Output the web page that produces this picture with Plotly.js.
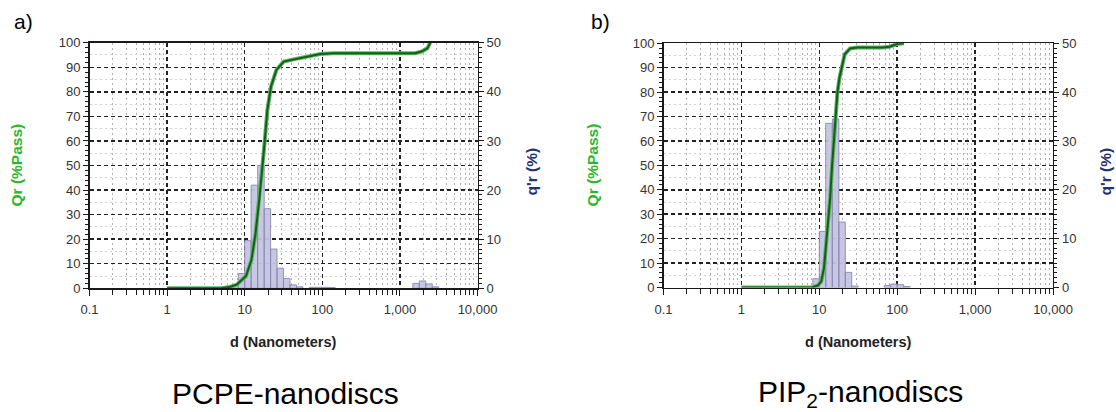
<!DOCTYPE html>
<html><head><meta charset="utf-8">
<script src="https://cdn.plot.ly/plotly-3.0.1.min.js"></script>
<style>html,body{margin:0;padding:0;background:#fff}#chart{width:1116px;height:412px}</style>
</head><body><div id="chart"></div>
<script>
// ---------- data ----------
const panelLabels = ['a)', 'b)'];
const sampleNames = ['PCPE-nanodiscs', 'PIP<sub>2</sub>-nanodiscs'];
const xTitle = 'd (Nanometers)';
const yLeftTitle = 'Qr (%Pass)';
const yRightTitle = "q'r (%)";

// histogram (q'r, %) — bin centre diameters in nm
const pcpeBinD = [7.5, 9.1, 11.0, 13.3, 16.2, 19.6, 23.7, 28.7, 34.8, 42.2, 51.1, 75.0, 90.9, 110, 133, 1615, 1957, 2371, 2873];
const pcpeBinQ = [0.6, 3.0, 9.7, 21.0, 25.0, 16.2, 8.0, 4.1, 2.0, 0.7, 0.3, 0.2, 0.2, 0.2, 0.15, 1.0, 1.5, 0.9, 0.3];
const pipBinD  = [9.1, 11.0, 13.3, 16.2, 19.6, 23.7, 28.7, 75.0, 90.9, 110, 133];
const pipBinQ  = [1.8, 11.5, 33.6, 34.5, 13.4, 3.1, 0.3, 0.4, 0.7, 0.6, 0.2];

// cumulative curve (Qr, % pass)
const pcpeQrD = [1, 5, 6.4, 7.9, 10.4, 12.2, 13.8, 15.4, 17.7, 19.6, 21.8, 25.6, 31.8, 42.4, 69.7, 93.8, 138, 300, 1575, 1930, 2260, 2460];
const pcpeQr  = [0, 0, 0.5, 1.5, 5, 11.5, 22.4, 36, 56.3, 72.6, 82.1, 88.9, 92.3, 93.2, 94.6, 95.4, 95.7, 95.7, 95.7, 96.5, 97.7, 100];
const pipQrD  = [1, 8.0, 9.55, 10.6, 11.5, 12.5, 13.8, 14.6, 15.5, 16.2, 17.1, 18.2, 19.1, 21.2, 24.9, 30.8, 64.6, 80, 98.9, 122];
const pipQr   = [0, 0, 0.8, 2.5, 8, 20, 37, 50, 62, 72, 80, 86, 89.5, 95.5, 97.9, 98.3, 98.3, 98.6, 99.7, 100];

// ---------- styling ----------
const BIN_LOGW = 1 / 12;           // bin width in decades
const FONT = 'Liberation Sans, Arial, sans-serif';
const tickFont = {family: FONT, size: 13, color: '#333'};
const W = 1116, H = 412;
const px = v => v / W, py = v => 1 - v / H;

const panels = [
  {binD: pcpeBinD, binQ: pcpeBinQ, qrD: pcpeQrD, qr: pcpeQr, x0: 89.5, x1: 477.5, y0: 42.7, y1: 288.3,
   xa: 'x', yq: 'y', yQ: 'y2', lblX: 12, qrX: 16, qprX: 531},
  {binD: pipBinD, binQ: pipBinQ, qrD: pipQrD, qr: pipQr, x0: 663.5, x1: 1053, y0: 43.3, y1: 287.5,
   xa: 'x2', yq: 'y3', yQ: 'y4', lblX: 589, qrX: 592, qprX: 1105}
];

function barPolys(d, q) {
  const xs = [], ys = [];
  const f = Math.pow(10, BIN_LOGW / 2);
  d.forEach((c, i) => {
    const lo = c / f, hi = c * f;
    xs.push(lo, lo, hi, hi, lo, null);
    ys.push(0, q[i], q[i], 0, 0, null);
  });
  return {xs, ys};
}

const traces = [];
const layout = {
  width: W, height: H, margin: {l: 0, r: 0, t: 0, b: 0},
  paper_bgcolor: '#fff', plot_bgcolor: '#fff', showlegend: false,
  annotations: [], font: {family: FONT}
};

panels.forEach((p, k) => {
  const b = barPolys(p.binD, p.binQ);
  traces.push({type: 'scatter', mode: 'lines', x: b.xs, y: b.ys, xaxis: p.xa, yaxis: p.yq,
    fill: 'toself', fillcolor: 'rgba(196,195,225,0.95)', line: {color: '#8a89b3', width: 0.9},
    hoverinfo: 'skip'});
  // light halo + dark core of the cumulative curve
  traces.push({type: 'scatter', mode: 'lines', x: p.qrD, y: p.qr, xaxis: p.xa, yaxis: p.yQ,
    line: {color: '#58b85c', width: 4}, hoverinfo: 'skip'});
  traces.push({type: 'scatter', mode: 'lines', x: p.qrD, y: p.qr, xaxis: p.xa, yaxis: p.yQ,
    line: {color: '#1a5a22', width: 2}, hoverinfo: 'skip'});

  const xKey = p.xa === 'x' ? 'xaxis' : 'xaxis2';
  const yqKey = p.yq === 'y' ? 'yaxis' : 'yaxis' + p.yq.slice(1);
  const yQKey = 'yaxis' + p.yQ.slice(1);
  const xd = [px(p.x0), px(p.x1)], yd = [py(p.y1), py(p.y0)];

  layout[xKey] = {
    type: 'log', range: [-1, 4], domain: xd, anchor: p.yq,
    dtick: 1, tick0: 0, tickformat: ',', tickfont: tickFont,
    showline: true, linecolor: '#1a1a1a', linewidth: 1.4, mirror: true,
    ticks: 'outside', ticklen: 6, tickcolor: '#1a1a1a', ticklabelstandoff: 3,
    showgrid: true, gridcolor: '#222', gridwidth: 1.5, griddash: '4px,3px',
    zeroline: false, fixedrange: true,
    minor: {dtick: 'D1', ticks: 'outside', ticklen: 5, tickcolor: '#1a1a1a',
            showgrid: true, gridcolor: '#b0b0b0', gridwidth: 1, griddash: '2px,3px'}
  };
  // right axis (q'r) is the base so bars sit under the cumulative curve
  layout[yqKey] = {
    domain: yd, anchor: p.xa, side: 'right', range: [0, 50], dtick: 10,
    tickfont: tickFont, showline: true, linecolor: '#1a1a1a', linewidth: 1.4,
    ticks: 'outside', ticklen: 5, tickcolor: '#1a1a1a', mirror: 'ticks',
    showgrid: false, zeroline: false, fixedrange: true,
    minor: {dtick: 1, ticks: 'outside', ticklen: 3, tickcolor: '#1a1a1a', showgrid: false}
  };
  layout[yQKey] = {
    overlaying: p.yq, anchor: p.xa, side: 'left', range: [0, 100], dtick: 10,
    tickfont: tickFont, showline: true, linecolor: '#1a1a1a', linewidth: 1.4,
    ticks: 'outside', ticklen: 5, tickcolor: '#1a1a1a',
    showgrid: true, gridcolor: '#222', gridwidth: 1.5, griddash: '4px,3px',
    zeroline: false, fixedrange: true,
    minor: {dtick: 5, ticks: '', showgrid: true, gridcolor: '#d2d2d2', gridwidth: 1, griddash: '2px,3px'}
  };

  const cx = (p.x0 + p.x1) / 2;
  const A = layout.annotations;
  A.push({text: panelLabels[k], x: px(p.lblX), y: py(22), xref: 'paper', yref: 'paper',
    xanchor: 'left', yanchor: 'middle', showarrow: false, font: {family: FONT, size: 21, color: '#000'}});
  A.push({text: '<b>' + yLeftTitle + '</b>', x: px(p.qrX), y: py((p.y0 + p.y1) / 2), xref: 'paper', yref: 'paper',
    textangle: -90, xanchor: 'center', yanchor: 'middle', showarrow: false,
    font: {family: FONT, size: 15.5, color: '#2fb52f'}});
  A.push({text: '<b>' + yRightTitle + '</b>', x: px(p.qprX), y: py((p.y0 + p.y1) / 2 + 6), xref: 'paper', yref: 'paper',
    textangle: -90, xanchor: 'center', yanchor: 'middle', showarrow: false,
    font: {family: FONT, size: 15.5, color: '#26336e'}});
  A.push({text: '<b>' + xTitle + '</b>', x: px(cx), y: py(342), xref: 'paper', yref: 'paper',
    xanchor: 'center', yanchor: 'middle', showarrow: false, font: {family: FONT, size: 14.5, color: '#222'}});
  A.push({text: sampleNames[k], x: px(cx + 2), y: py(393), xref: 'paper', yref: 'paper',
    xanchor: 'center', yanchor: 'middle', showarrow: false, font: {family: FONT, size: 30, color: '#000'}});
});

Plotly.newPlot('chart', traces, layout, {staticPlot: true, displayModeBar: false});
</script>
</body></html>
